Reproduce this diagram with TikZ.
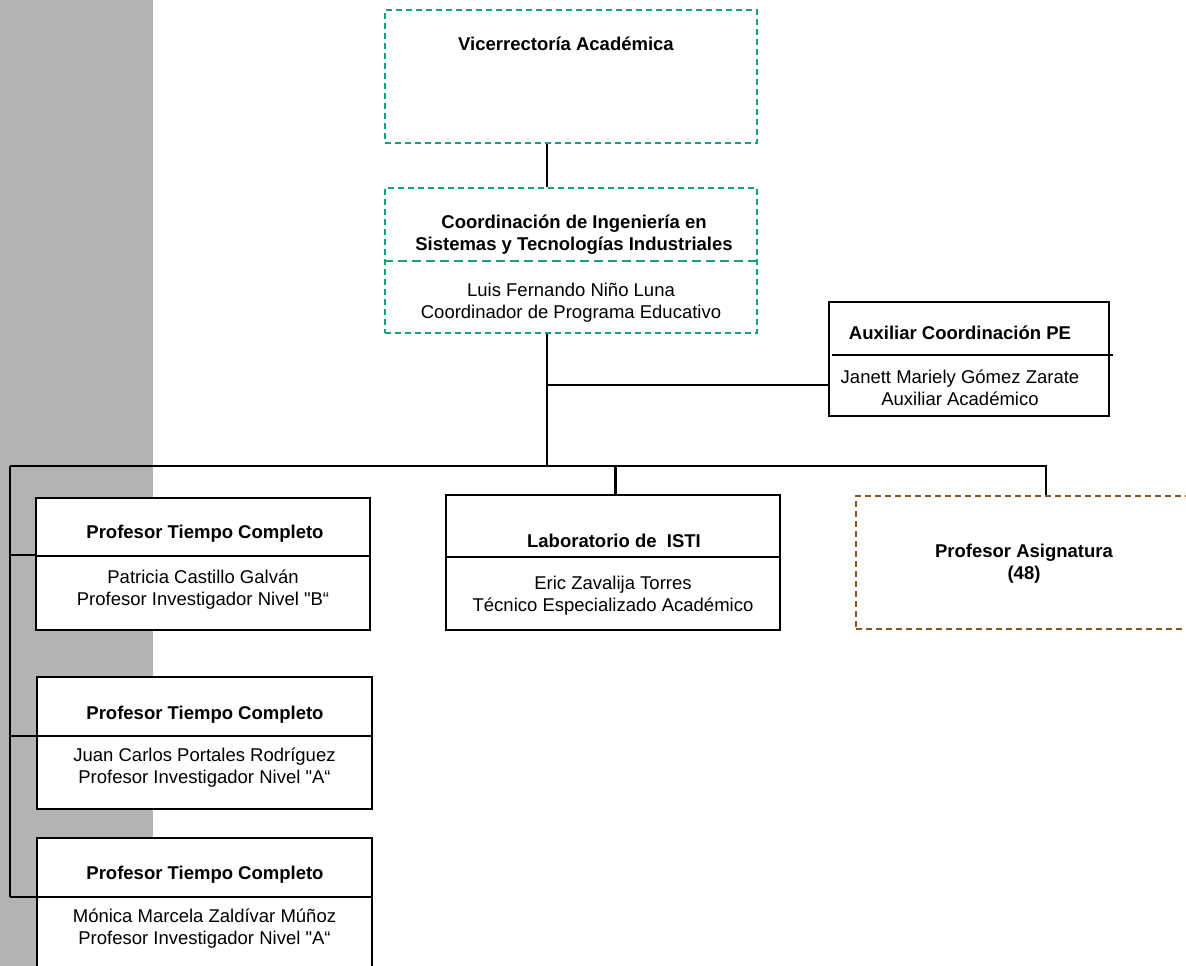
\documentclass[tikz,border=0pt]{standalone}
\usepackage{fontspec}
\setmainfont[Ligatures=TeXOff]{Liberation Sans}
\definecolor{grayband}{RGB}{179,179,179}
\definecolor{dgreen}{RGB}{22,160,125}
\definecolor{dbrown}{RGB}{140,85,30}
\begin{document}
\begin{tikzpicture}[x=1pt,y=-1pt,
  txt/.style={font=\fontsize{18.5}{22}\selectfont, align=center, inner sep=0pt},
  btxt/.style={font=\fontsize{18.5}{22}\selectfont\bfseries, align=center, inner sep=0pt},
  gbox/.style={draw=dgreen, line width=1.3pt, dash pattern=on 6pt off 4pt, inner sep=0pt, fill=white},
  bbox/.style={draw=dbrown, line width=1.3pt, dash pattern=on 6pt off 4pt, inner sep=0pt, fill=white},
  sbox/.style={draw=black, line width=1.3pt, fill=white, inner sep=0pt},
  gdiv/.style={draw=dgreen, line width=2pt, dash pattern=on 9pt off 5pt},
  sdiv/.style={draw=black, line width=1.9pt},
  conn/.style={line width=1.2pt},
  tconn/.style={line width=2.4pt}]
\clip (0,0) rectangle (1186,966);
\fill[grayband] (0,0) rectangle (153,966);

% Vicerrectoria
\node[gbox, minimum width=372pt, minimum height=133pt] (vice) at (571,76.5) {};
\node[btxt] (vicet) at (566,44) {Vicerrectoría Académica};

% Coordinacion
\node[gbox, minimum width=372pt, minimum height=145pt] (coord) at (571,260.5) {};
\draw[gdiv] (coord.west |- 0,261) -- (coord.east |- 0,261);
\node[btxt] (coordt) at (574,235) {Coordinación de Ingeniería en\\Sistemas y Tecnologías Industriales};
\node[txt] (coordn) at (571,302.5) {Luis Fernando Niño Luna\\Coordinador de Programa Educativo};

% Auxiliar
\node[sbox, minimum width=280pt, minimum height=114pt] (aux) at (969,359) {};
\draw[sdiv] (832,355) -- (1113,355);
\node[btxt] (auxt) at (960,333) {Auxiliar Coordinación PE};
\node[txt] (auxn) at (960,387.5) {Janett Mariely Gómez Zarate\\Auxiliar Académico};

% Laboratorio
\node[sbox, minimum width=334pt, minimum height=135pt] (lab) at (613,562.5) {};
\draw[sdiv] (lab.west |- 0,557) -- (lab.east |- 0,557);
\node[btxt] (labt) at (614,541) {Laboratorio de\ \ ISTI};
\node[txt] (labn) at (613,596) {Eric Zavalija Torres\\Técnico Especializado Académico};

% Profesor Asignatura
\node[bbox, minimum width=336pt, minimum height=133pt] (asig) at (1024,562.5) {};
\node[btxt] (asigt) at (1024,564) {Profesor Asignatura\\(48)};

% PTC 1
\node[sbox, minimum width=334pt, minimum height=132pt] (ptca) at (203,564) {};
\draw[sdiv] (ptca.west |- 0,556) -- (ptca.east |- 0,556);
\node[btxt] (ptcat) at (205,534) {Profesor Tiempo Completo};
\node[txt] (ptcan) at (203,590) {Patricia Castillo Galván\\Profesor Investigador Nivel "B“};

% PTC 2
\node[sbox, minimum width=335pt, minimum height=132pt] (ptcb) at (204.5,743) {};
\draw[sdiv] (ptcb.west |- 0,736) -- (ptcb.east |- 0,736);
\node[btxt] (ptcbt) at (205,715) {Profesor Tiempo Completo};
\node[txt] (ptcbn) at (204.5,767.5) {Juan Carlos Portales Rodríguez\\Profesor Investigador Nivel "A“};

% PTC 3
\node[sbox, minimum width=335pt, minimum height=147pt] (ptcc) at (204.5,911.5) {};
\draw[sdiv] (ptcc.west |- 0,897) -- (ptcc.east |- 0,897);
\node[btxt] (ptcct) at (205,875) {Profesor Tiempo Completo};
\node[txt] (ptccn) at (204.5,929) {Mónica Marcela Zaldívar Múñoz\\Profesor Investigador Nivel "A“};

% connectors
\coordinate (jx) at (547,466);
\coordinate (hl) at (10,466);
\coordinate (hr) at (1046,466);
\coordinate (lx) at (615,466);
\coordinate (lb) at (10,897);
\draw[conn] (vice.south -| jx) -- (coord.north -| jx);
\draw[conn] (coord.south -| jx) -- (jx);
\draw[tconn] (jx |- 0,385) -- (aux.west |- 0,385);
\draw[conn] (hl) -- (hr) -- (hr |- asig.north);
\draw[line width=3pt] (lx) -- (lx |- lab.north);
\draw[line width=1.8pt] (hl) -- (lb);
\draw[tconn] (hl |- 0,555) -- (ptca.west |- 0,555);
\draw[tconn] (hl |- 0,736) -- (ptcb.west |- 0,736);
\draw[tconn] (lb) -- (ptcc.west |- lb);
\end{tikzpicture}
\end{document}
